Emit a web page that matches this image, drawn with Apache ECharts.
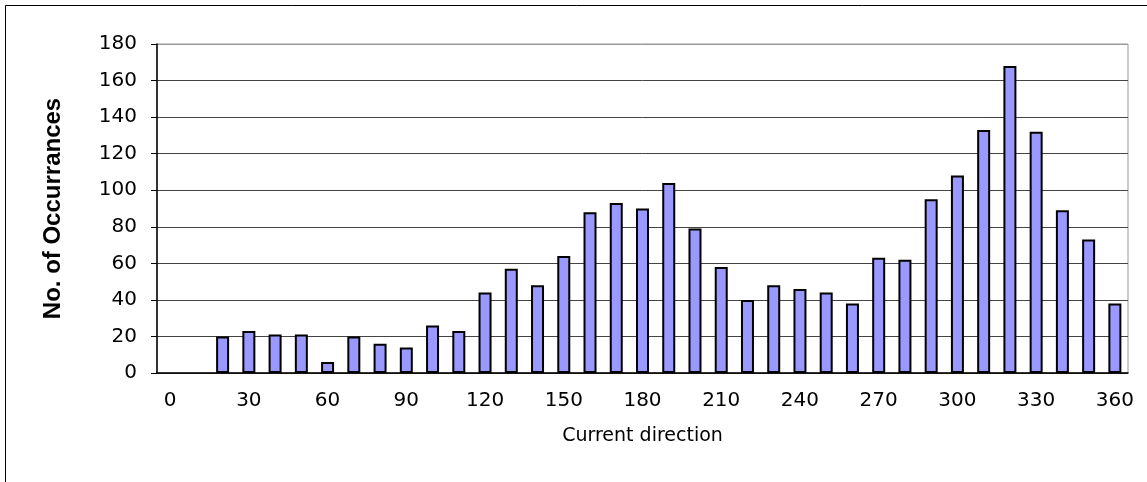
<!DOCTYPE html>
<html>
<head>
<meta charset="utf-8">
<script src="https://cdn.jsdelivr.net/npm/echarts@6/dist/echarts.min.js"></script>
<style>
  html, body { margin: 0; padding: 0; background: #fff; }
  #chart { width: 1147px; height: 482px; }
</style>
</head>
<body>
<div id="chart"></div>
<script>
// direction bins (degrees)
var directions = ['0', '10', '20', '30', '40', '50', '60', '70', '80', '90',
    '100', '110', '120', '130', '140', '150', '160', '170', '180', '190',
    '200', '210', '220', '230', '240', '250', '260', '270', '280', '290',
    '300', '310', '320', '330', '340', '350', '360']

// occurrences per bin
var occurrences = [0, 0, 20, 23, 21, 21, 6, 20, 16, 14,
    26, 23, 44, 57, 48, 64, 88, 93, 90, 104,
    79, 58, 40, 48, 46, 44, 38, 63, 62, 95,
    108, 133, 168, 132, 89, 73, 38]

var yTicks = [0, 20, 40, 60, 80, 100, 120, 140, 160, 180]

var myChart = echarts.init(document.getElementById('chart'))

// top gridline is the light plot border, the rest dark
var gridColors = yTicks.map(function (v) {
    return v === 180 ? '#999999' : '#444444'
})

// empty bins draw nothing (no flat outline on the axis)
var barData = occurrences.map(function (v) {
    return v === 0 ? '-' : v
})

var option = {
    animation: false,
    backgroundColor: '#ffffff',
    graphic: [{
        type: 'rect',
        shape: { x: 5.5, y: 5.5, width: 1300, height: 700 },
        style: { fill: 'none', stroke: '#000', lineWidth: 1 },
        silent: true
    }],
    grid: {
        left: 157,
        right: 19,
        top: 44,
        bottom: 109,
        show: true,
        borderColor: '#999999',
        borderWidth: 1,
        backgroundColor: '#ffffff'
    },
    xAxis: {
        type: 'category',
        data: directions,
        name: 'Current direction',
        nameLocation: 'middle',
        nameGap: 54,
        nameTextStyle: {
            fontFamily: 'DejaVu Sans',
            fontSize: 19,
            color: '#000'
        },
        axisLine: { lineStyle: { color: '#000', width: 1.5 } },
        axisTick: {
            interval: 0,
            length: 6,
            lineStyle: { color: '#000' }
        },
        axisLabel: {
            interval: 2,
            margin: 18,
            fontFamily: 'DejaVu Sans',
            fontSize: 20,
            color: '#000'
        },
        splitLine: { show: false }
    },
    yAxis: {
        type: 'value',
        min: 0,
        max: 180,
        interval: 20,
        name: 'No. of Occurrances',
        nameLocation: 'middle',
        nameRotate: 90,
        nameGap: 92,
        nameTextStyle: {
            fontFamily: 'Liberation Sans',
            fontWeight: 'bold',
            fontSize: 24,
            color: '#000'
        },
        axisLine: { show: true, lineStyle: { color: '#000', width: 1.5 } },
        axisTick: { show: true, length: 6, lineStyle: { color: '#000' } },
        axisLabel: {
            margin: 20,
            fontFamily: 'DejaVu Sans',
            fontSize: 20,
            color: '#000'
        },
        splitLine: { show: true, lineStyle: { color: gridColors, width: 1 } }
    },
    series: [{
        name: 'Occurrences',
        type: 'bar',
        data: barData,
        barWidth: 13,
        itemStyle: {
            color: '#9999FF',
            borderColor: '#000',
            borderWidth: 2
        }
    }]
}

myChart.setOption(option)
</script>
</body>
</html>
